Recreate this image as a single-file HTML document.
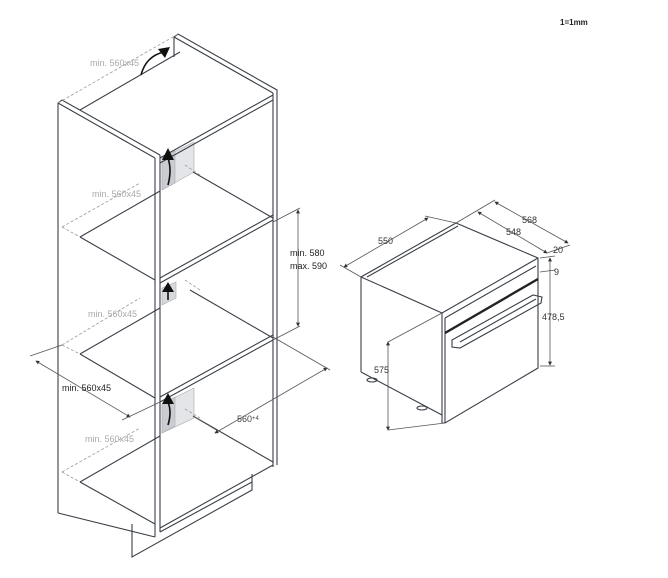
<!DOCTYPE html>
<html><head><meta charset="utf-8"><style>
html,body{margin:0;padding:0;background:#fff;}
svg{display:block;}
text{font-family:"Liberation Sans",sans-serif;}
</style></head><body>
<svg width="668" height="578" viewBox="0 0 668 578" xmlns="http://www.w3.org/2000/svg">
<defs>
<marker id="a" viewBox="0 0 6 6" refX="5" refY="3" markerWidth="5" markerHeight="5" orient="auto-start-reverse"><path d="M0,0L6,3L0,6z" fill="#333"/></marker>
</defs>
<text x="560" y="25" font-size="8" font-weight="bold" fill="#222">1=1mm</text>

<!-- gray vents -->
<g stroke="#aaa" stroke-width="0.6">
<polygon points="162,158 194,142 194,172 162,190" fill="#e3e5e8"/>
<polygon points="162,158 175,151 175,183 162,190" fill="#c9ccd1"/>
<polygon points="162,288 176,282 176,298 162,305" fill="#d6d8dc"/>
<polygon points="162,404 194,388 194,418 162,433" fill="#e3e5e8"/>
<polygon points="162,404 175,397 175,426 162,433" fill="#c9ccd1"/>
</g>

<g fill="none" stroke="#3a3f47" stroke-width="1.1">
<polyline points="58,513 58,103 62,100 160,155"/>
<line x1="58" y1="103" x2="155" y2="158"/>
<line x1="155" y1="158" x2="155" y2="537"/>
<line x1="160" y1="155" x2="160" y2="532"/>
<line x1="58" y1="513" x2="155" y2="537"/>
<polyline points="174,57 174,37 178,34 277,90 277,465"/>
<line x1="174" y1="37" x2="273" y2="93"/>
<line x1="273" y1="93" x2="273" y2="467"/>
<line x1="80" y1="110" x2="180" y2="52"/>
<line x1="160" y1="158" x2="273" y2="95"/>
<line x1="160" y1="163" x2="273" y2="100"/>
<line x1="160" y1="278" x2="273" y2="215"/>
<line x1="160" y1="283" x2="273" y2="220"/>
<line x1="80" y1="237" x2="155" y2="280"/>
<line x1="80" y1="237" x2="160" y2="191"/>
<line x1="193" y1="172" x2="273" y2="218"/>
<line x1="160" y1="397" x2="273" y2="335"/>
<line x1="160" y1="402" x2="273" y2="340"/>
<line x1="80" y1="354" x2="155" y2="398"/>
<line x1="80" y1="354" x2="160" y2="308"/>
<line x1="190" y1="290" x2="273" y2="338"/>
<line x1="160" y1="528" x2="273" y2="465"/>
<line x1="80" y1="482" x2="155" y2="524"/>
<line x1="80" y1="482" x2="160" y2="436"/>
<line x1="193" y1="416" x2="273" y2="462"/>
<polyline points="132,524 132,557 252,490 252,474"/>
<line x1="160" y1="532" x2="252" y2="482"/>
</g>

<g fill="none" stroke="#999" stroke-width="0.8" stroke-dasharray="3,2">
<line x1="58" y1="103" x2="178" y2="34"/>
<line x1="62" y1="227" x2="140" y2="183"/>
<line x1="62" y1="227" x2="80" y2="237"/>
<line x1="62" y1="345" x2="140" y2="298"/>
<line x1="62" y1="345" x2="80" y2="354"/>
<line x1="62" y1="472" x2="140" y2="428"/>
<line x1="62" y1="472" x2="80" y2="482"/>
<line x1="185" y1="165" x2="200" y2="175"/>
<line x1="185" y1="280" x2="200" y2="290"/>
<line x1="185" y1="409" x2="200" y2="418"/>
</g>

<g fill="none" stroke="#111" stroke-width="1.6">
<path d="M141,75 Q146,56 164,52"/>
<path d="M168,185 Q172,170 168,158"/>
<path d="M168,300 L168,290"/>
<path d="M168,425 Q172,412 168,402"/>
</g>
<g fill="#111">
<polygon points="170,47 158,49 165,58"/>
<polygon points="162,160 168,148 174,160"/>
<polygon points="162,292 168,282 174,292"/>
<polygon points="162,404 168,393 174,404"/>
</g>

<g stroke="#555" stroke-width="0.8" fill="none">
<line x1="298" y1="210" x2="298" y2="326" marker-start="url(#a)" marker-end="url(#a)"/>
<line x1="273" y1="222" x2="300" y2="208"/>
<line x1="273" y1="340" x2="300" y2="326"/>
<line x1="36" y1="361" x2="130" y2="417" marker-start="url(#a)" marker-end="url(#a)"/>
<line x1="30" y1="356" x2="62" y2="345"/>
<line x1="122" y1="420" x2="160" y2="402"/>
<line x1="215" y1="433" x2="327" y2="368" marker-start="url(#a)" marker-end="url(#a)"/>
<line x1="273" y1="337" x2="330" y2="370"/>
<line x1="193" y1="416" x2="218" y2="431"/>
</g>
<g font-size="9">
<text x="290" y="256" fill="#222">min. 580</text>
<text x="290" y="269" fill="#222">max. 590</text>
<text x="62" y="391" fill="#222">min. 560x45</text>
<text x="237" y="422" fill="#444">560<tspan font-size="6" dy="-2">+4</tspan></text>
<g fill="#aaa">
<text x="90" y="66">min. 560x45</text>
<text x="92" y="197">min. 560x45</text>
<text x="88" y="317">min. 560x45</text>
<text x="85" y="442">min. 560x45</text>
</g>
</g>

<g fill="none" stroke="#3a3f47" stroke-width="1.1">
<polyline points="361,372 361,277 456,223 538,258 538,368 445,423 442,423"/>
<line x1="361" y1="277" x2="442" y2="313"/>
<line x1="442" y1="313" x2="538" y2="258"/>
<line x1="442" y1="313" x2="442" y2="423"/>
<line x1="445" y1="318" x2="445" y2="423"/>
<line x1="361" y1="372" x2="442" y2="415"/>
<line x1="367" y1="277" x2="458" y2="226"/>
<line x1="445" y1="318" x2="536" y2="266"/>
<ellipse cx="372" cy="380" rx="5" ry="2"/>
<ellipse cx="422" cy="408" rx="5" ry="2"/>
<polygon points="452,340 533,295 542,297 541,303 460,348 452,347"/>
<line x1="460" y1="342" x2="536" y2="299"/>
</g>
<line x1="445" y1="333" x2="538" y2="279" stroke="#222" stroke-width="2.4"/>

<g stroke="#555" stroke-width="0.8" fill="none">
<line x1="344" y1="267" x2="428" y2="218" marker-start="url(#a)" marker-end="url(#a)"/>
<line x1="340" y1="265" x2="361" y2="277"/>
<line x1="425" y1="216" x2="456" y2="223"/>
<line x1="495" y1="202" x2="568" y2="243" marker-start="url(#a)" marker-end="url(#a)"/>
<line x1="478" y1="212" x2="547" y2="253" marker-start="url(#a)" marker-end="url(#a)"/>
<line x1="456" y1="223" x2="495" y2="200"/>
<line x1="547" y1="253" x2="570" y2="245"/>
<line x1="550" y1="258" x2="550" y2="365" marker-start="url(#a)" marker-end="url(#a)"/>
<line x1="540" y1="258" x2="555" y2="256"/>
<line x1="540" y1="272" x2="555" y2="270"/>
<line x1="540" y1="366" x2="555" y2="366"/>
<line x1="388" y1="342" x2="388" y2="430" marker-start="url(#a)" marker-end="url(#a)"/>
<line x1="388" y1="342" x2="442" y2="313"/>
<line x1="388" y1="430" x2="445" y2="423"/>
</g>
<g font-size="9" fill="#333">
<text x="378" y="244">550</text>
<text x="522" y="223">568</text>
<text x="506" y="235">548</text>
<text x="553" y="253">20</text>
<text x="554" y="275">9</text>
<text x="542" y="320">478,5</text>
<text x="374" y="373">575</text>
</g>
</svg>
</body></html>
